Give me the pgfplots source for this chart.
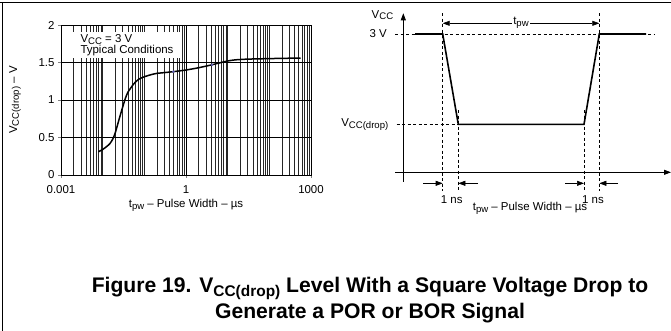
\documentclass[border=0pt]{standalone}
\usepackage{fontspec}
\setmainfont{Liberation Sans}
\usepackage{pgfplots}
\pgfplotsset{compat=1.18}
\usetikzlibrary{arrows.meta}
\newcommand\lbl{\fontsize{11.5}{13}\selectfont}
\newcommand\sub[1]{\raisebox{-0.3ex}{\fontsize{9.6}{10}\selectfont#1}}
\newcommand\capsub[1]{\raisebox{-0.4ex}{\fontsize{15.5}{16}\selectfont\bfseries#1}}
\tikzset{tri/.tip={Triangle[length=7bp,width=5bp]},
  guide/.style={line width=0.6bp, dash pattern=on 3bp off 2.5bp}}

\begin{document}
\begin{tikzpicture}
\useasboundingbox (0,0) rectangle (671bp,-331bp);
% page frame (top and left rules)
\draw[line width=1.3bp] (0,-2.5bp) -- (671bp,-2.5bp);
\draw[line width=1.3bp] (2.5bp,-2.5bp) -- (2.5bp,-331bp);

% ---- left: measured curve ----
\begin{axis}[
  scale only axis, width=250bp, height=150bp,
  at={(61bp,-175bp)}, anchor=south west,
  xmode=log, xmin=0.001, xmax=1000, ymin=0, ymax=2,
  xtick={0.001,1,1000}, xticklabels={0.001,1,1000},
  ytick={0,0.5,1,1.5,2},
  minor xtick={0.002,0.003,0.004,0.005,0.006,0.007,0.008,0.009,
    0.01,0.02,0.03,0.04,0.05,0.06,0.07,0.08,0.09,
    0.1,0.2,0.3,0.4,0.5,0.6,0.7,0.8,0.9,
    2,3,4,5,6,7,8,9,10,20,30,40,50,60,70,80,90,
    100,200,300,400,500,600,700,800,900},
  xmajorgrids, xminorgrids, ymajorgrids,
  major grid style={black, line width=0.6bp},
  minor grid style={black!85, line width=0.45bp},
  axis line style={line width=0.8bp},
  tick align=outside, tick pos=left,
  major tick length=3bp, minor tick length=0pt,
  tick label style={font=\lbl, /pgf/number format/assume math mode=true},
  xticklabel style={yshift=-4bp},
  yticklabel style={/pgf/number format/fixed},
  xlabel={t\sub{pw} – Pulse Width – µs},
  ylabel={V\sub{CC(drop)} – V},
  label style={font=\lbl},
  x label style={at={(axis description cs:0.5,-0.2)}, anchor=center},
  y label style={at={(axis description cs:-0.184,0.5)}, anchor=center},
  clip=false
]
\addplot[black, line width=1.5bp, smooth, tension=0.4] coordinates {
  (0.0079,0.31) (0.01,0.34) (0.0125,0.38) (0.015,0.42) (0.0175,0.48)
  (0.02,0.56) (0.025,0.75) (0.03,0.90) (0.035,1.02) (0.04,1.10)
  (0.05,1.18) (0.06,1.235) (0.075,1.28) (0.1,1.31) (0.15,1.34)
  (0.2,1.355) (0.3,1.365) (0.5,1.378) (1,1.40) (2,1.43) (4,1.467)
  (7,1.50) (10,1.52) (15,1.535) (30,1.545) (100,1.552) (300,1.557) (560,1.56)
};
\addplot[only marks, mark=*, mark size=1.1bp, color={rgb,255:red,90;green,90;blue,170}]
  coordinates {(0.5,1.378) (4.2,1.47)};
\end{axis}
% text box of the left plot
\fill[white] (71.7bp,-31.7bp) rectangle (180bp,-58.3bp);
\node[anchor=west, font=\lbl] at (77bp,-39.5bp) {V\sub{CC} = 3 V};
\node[anchor=west, font=\lbl] at (77bp,-51bp) {Typical Conditions};

% ---- right: timing diagram ----
\begin{axis}[
  x=1bp, y=46.1bp, hide axis, clip=false,
  xmin=-8.3, xmax=267.7, ymin=-1, ymax=3.6,
  at={(395bp,-218.4bp)}, anchor=south west
]
% guides
\draw[guide] (axis cs:-8.3,3) -- (axis cs:251.7,3);
\draw[guide] (axis cs:-6.6,1.04) -- (axis cs:76.7,1.04);
\draw[guide] (axis cs:39.4,3.455) -- (axis cs:39.4,-0.41);
\draw[guide] (axis cs:196,3.455) -- (axis cs:196,-0.41);
\draw[guide] (axis cs:55,1.35) -- (axis cs:55,-0.41);
\draw[guide] (axis cs:180.7,1.35) -- (axis cs:180.7,-0.41);
% axes
\draw[line width=0.8bp, -tri] (axis cs:0,-0.21) -- (axis cs:0,3.45);
\draw[line width=0.8bp, -tri] (axis cs:-8.3,0) -- (axis cs:267.7,0);
% waveform
\addplot[black, line width=1.6bp] coordinates {
  (11.7,3) (39.4,3) (55,1.04) (180.7,1.04) (196,3) (242.7,3)
};
% pulse width
\draw[line width=0.6bp, tri-tri] (axis cs:39.4,3.232) -- (axis cs:196,3.232);
\node[fill=white, inner sep=1.5bp, font=\lbl] at (axis cs:117.7,3.25) {t\sub{pw}};
% 1 ns edges
\draw[line width=0.6bp, -tri] (axis cs:19.7,-0.239) -- (axis cs:39.4,-0.239);
\draw[line width=0.6bp, -tri] (axis cs:74.7,-0.239) -- (axis cs:55,-0.239);
\draw[line width=0.6bp, -tri] (axis cs:161.7,-0.239) -- (axis cs:180.7,-0.239);
\draw[line width=0.6bp, -tri] (axis cs:214.7,-0.239) -- (axis cs:196,-0.239);
\node[font=\lbl] at (axis cs:48.4,-0.585) {1 ns};
\node[font=\lbl] at (axis cs:189.7,-0.585) {1 ns};
\node[font=\lbl] at (axis cs:126.7,-0.79) {t\sub{pw} – Pulse Width – µs};
% level labels
\node[anchor=east, font=\lbl] at (axis cs:-6.6,3.41) {V\sub{CC}};
\node[anchor=east, font=\lbl] at (axis cs:-13,3) {3 V};
\node[anchor=east, font=\lbl] at (axis cs:-11.5,1.04) {V\sub{CC(drop)}};
\end{axis}

% caption
\node[anchor=base, font=\bfseries\fontsize{21.2}{24}\selectfont] at (370bp,-292bp)
  {Figure 19. V\capsub{CC(drop)} Level With a Square Voltage Drop to};
\node[anchor=base, font=\bfseries\fontsize{21.2}{24}\selectfont] at (370bp,-318bp)
  {Generate a POR or BOR Signal};
\end{tikzpicture}
\end{document}
